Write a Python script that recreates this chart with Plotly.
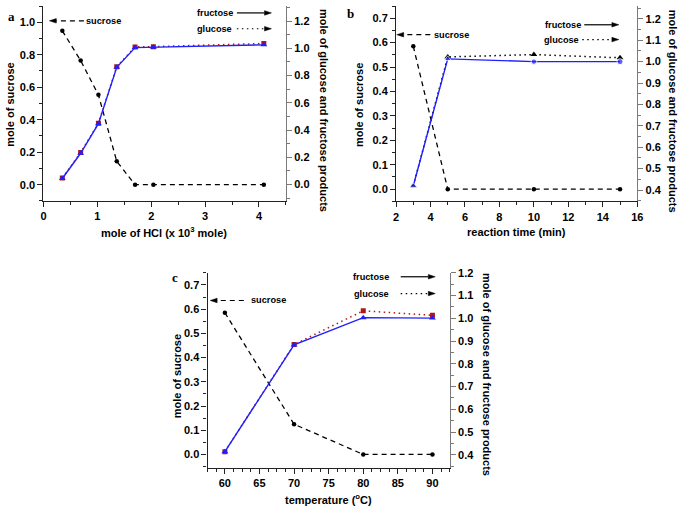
import plotly.graph_objects as go

# ---------------- data ----------------
hcl = [0.35, 0.69, 1.02, 1.36, 1.70, 2.04, 4.09]
suc_a = [0.947, 0.764, 0.553, 0.144, 0.0, 0.0, 0.0]
fru_a = [0.045, 0.23, 0.447, 0.86, 1.005, 1.008, 1.025]
glu_a = [0.048, 0.235, 0.45, 0.865, 1.01, 1.012, 1.035]

time_min = [3, 5, 10, 15]
suc_b = [0.585, 0.0, 0.0, 0.0]
fru_b = [0.42, 1.013, 1.0, 1.0]
glu_b = [0.42, 1.022, 1.033, 1.018]

temp = [60, 70, 80, 90]
suc_c = [0.585, 0.125, 0.0, 0.0]
fru_c = [0.414, 0.883, 1.003, 1.001]
glu_c = [0.414, 0.885, 1.033, 1.013]

W, H = 685, 508
FONT = "Arial, Liberation Sans, sans-serif"
BLUE = "#1f1fff"
RED = "#b01818"
AXC = "#222222"
RAXC = "#7a7a7a"
DASH = "5px,4px"
DOT = "1.5px,3.5px"


def px(x):
    return x / W


def py(y):
    return 1 - y / H


fig = go.Figure()

# ---------- panel a ----------
fig.add_trace(go.Scatter(x=hcl, y=suc_a, xaxis="x", yaxis="y", mode="lines+markers",
                         line=dict(color="black", dash=DASH, width=1.3),
                         marker=dict(color="black", size=4.5, symbol="circle")))
fig.add_trace(go.Scatter(x=hcl, y=glu_a, xaxis="x", yaxis="y2", mode="lines+markers",
                         line=dict(color=RED, dash=DOT, width=1.5),
                         marker=dict(color=RED, size=5, symbol="square")))
fig.add_trace(go.Scatter(x=hcl, y=fru_a, xaxis="x", yaxis="y2", mode="lines+markers",
                         line=dict(color=BLUE, width=1.4),
                         marker=dict(color=BLUE, size=6, symbol="triangle-up")))

# ---------- panel b ----------
fig.add_trace(go.Scatter(x=time_min, y=suc_b, xaxis="x2", yaxis="y3", mode="lines+markers",
                         line=dict(color="black", dash=DASH, width=1.3),
                         marker=dict(color="black", size=4.5, symbol="circle")))
fig.add_trace(go.Scatter(x=time_min, y=glu_b, xaxis="x2", yaxis="y4", mode="lines+markers",
                         line=dict(color="black", dash=DOT, width=1.5),
                         marker=dict(color="black", size=6, symbol="triangle-up")))
fig.add_trace(go.Scatter(x=time_min, y=fru_b, xaxis="x2", yaxis="y4", mode="lines+markers",
                         line=dict(color=BLUE, width=1.4),
                         marker=dict(color=BLUE, size=[6, 6, 5.5, 6],
                                     symbol=["triangle-up", "triangle-up", "circle", "circle"])))

# ---------- panel c ----------
fig.add_trace(go.Scatter(x=temp, y=suc_c, xaxis="x3", yaxis="y5", mode="lines+markers",
                         line=dict(color="black", dash=DASH, width=1.3),
                         marker=dict(color="black", size=4.5, symbol="circle")))
fig.add_trace(go.Scatter(x=temp, y=glu_c, xaxis="x3", yaxis="y6", mode="lines+markers",
                         line=dict(color=RED, dash=DOT, width=1.5),
                         marker=dict(color=RED, size=5, symbol="square")))
fig.add_trace(go.Scatter(x=temp, y=fru_c, xaxis="x3", yaxis="y6", mode="lines+markers",
                         line=dict(color=BLUE, width=1.4),
                         marker=dict(color=BLUE, size=6, symbol="triangle-up")))

tickfont = dict(family=FONT, size=11, color="black", weight="bold")


def xax(domain, anchor, rng, dtick, minor):
    return dict(domain=domain, anchor=anchor, range=rng, dtick=dtick, tick0=0,
                showline=True, linecolor=AXC, linewidth=1.2, mirror=False,
                ticks="outside", ticklen=5, tickwidth=1, tickcolor=AXC,
                minor=dict(dtick=minor, ticks="outside", ticklen=3, tickcolor=AXC),
                showgrid=False, zeroline=False, tickfont=tickfont)


def yax(domain, anchor, rng, dtick, minor, side="left", overlaying=None, color=AXC):
    d = dict(domain=domain, anchor=anchor, range=rng, dtick=dtick, tick0=0, side=side,
             showline=True, linecolor=color, linewidth=1.2, mirror=False,
             ticks="outside", ticklen=5, tickwidth=1, tickcolor=color,
             minor=dict(dtick=minor, ticks="outside", ticklen=3, tickcolor=color),
             showgrid=False, zeroline=False, tickfont=tickfont, tickformat=".1f")
    if overlaying:
        d["overlaying"] = overlaying
    return d


dom_xa = [px(41), px(286.7)]
dom_ya = [py(197.3), 1.0]
dom_xb = [px(398.3), px(642.7)]
dom_yb = [py(197.7), 1.0]
dom_xc = [px(207.3), px(452.7)]
dom_yc = [py(467.3), py(270)]

fig.update_layout(
    width=W, height=H, margin=dict(l=0, r=0, t=0, b=0),
    paper_bgcolor="white", plot_bgcolor="white", showlegend=False,
    xaxis=xax(dom_xa, "y", [0, 4.5], 1, 0.5),
    yaxis=yax(dom_ya, "x", [-0.1, 1.1], 0.2, 0.1),
    yaxis2=yax(dom_ya, "x", [-0.12, 1.31], 0.2, 0.1, side="right", overlaying="y", color=RAXC),
    xaxis2=xax(dom_xb, "y3", [2, 16], 2, 1),
    yaxis3=yax(dom_yb, "x2", [-0.05, 0.75], 0.1, 0.05),
    yaxis4=yax(dom_yb, "x2", [0.347, 1.26], 0.1, 0.05, side="right", overlaying="y3", color=RAXC),
    xaxis3=xax(dom_xc, "y5", [57.5, 92.5], 5, 1.25),
    yaxis5=yax(dom_yc, "x3", [-0.055, 0.75], 0.1, 0.05),
    yaxis6=yax(dom_yc, "x3", [0.343, 1.2], 0.1, 0.05, side="right", overlaying="y5", color=RAXC),
)

annots = []
shapes = []


def text(x, y, s, size=11, angle=0, family=FONT, bold=True):
    annots.append(dict(x=px(x), y=py(y), xref="paper", yref="paper", text=s,
                       showarrow=False, textangle=angle, xanchor="center", yanchor="middle",
                       font=dict(family=family, size=size, color="black",
                                 weight="bold" if bold else "normal")))


def arrow(x0, x1, y, dash):
    # line from x0 to x1 (pixels); arrowhead (triangle) at x1
    d = 1 if x1 > x0 else -1
    L, hw = 7, 2.3
    shapes.append(dict(type="line", xref="paper", yref="paper", x0=px(x0), x1=px(x1 - d * L),
                       y0=py(y), y1=py(y), line=dict(color="black", width=1.2, dash=dash)))
    path = "M {:.5f} {:.5f} L {:.5f} {:.5f} L {:.5f} {:.5f} Z".format(
        px(x1), py(y), px(x1 - d * L), py(y - hw), px(x1 - d * L), py(y + hw))
    shapes.append(dict(type="path", xref="paper", yref="paper", path=path,
                       fillcolor="black", line=dict(color="black", width=0.5)))


# axis titles
text(163, 229, "mole of HCl (x 10<sup>3</sup> mole)")
text(7, 100, "mole of sucrose", angle=-90)
text(326, 106, "mole of glucose and fructose products", angle=90)

text(520, 229, "reaction time (min)")
text(361, 100, "mole of sucrose", angle=-90)
text(679, 106, "mole of glucose and fructose products", angle=90)

text(330, 499, "temperature (<sup>o</sup>C)")
text(176, 375, "mole of sucrose", angle=-90)
text(491, 373, "mole of glucose and fructose products", angle=90)

# panel labels
text(9, 11, "a", size=13, family="Liberation Serif, Times New Roman, serif")
text(352, 8, "b", size=13, family="Liberation Serif, Times New Roman, serif")
text(174, 275, "c", size=13, family="Liberation Serif, Times New Roman, serif")

# legend texts and arrows
LS = 9.2
text(102, 15, "sucrose", size=LS)
arrow(82, 47, 15, DASH)
text(215, 7, "fructose", size=LS)
arrow(237, 272, 7, "solid")
text(214, 23, "glucose", size=LS)
arrow(237, 272, 23, DOT)

text(454, 29, "sucrose", size=LS)
arrow(433, 399, 29, DASH)
text(567, 19, "fructose", size=LS)
arrow(589, 624, 19, "solid")
text(566, 34, "glucose", size=LS)
arrow(587, 624, 34, DOT)

text(269, 298, "sucrose", size=LS)
arrow(244, 210, 298, DASH)
text(373, 274, "fructose", size=LS)
arrow(403, 438, 274, "solid")
text(373, 291, "glucose", size=LS)
arrow(403, 438, 291, DOT)

fig.update_layout(annotations=annots, shapes=shapes)

fig.write_html("out.html", config={"displayModeBar": False},
               post_script="document.body.style.margin='0';")
